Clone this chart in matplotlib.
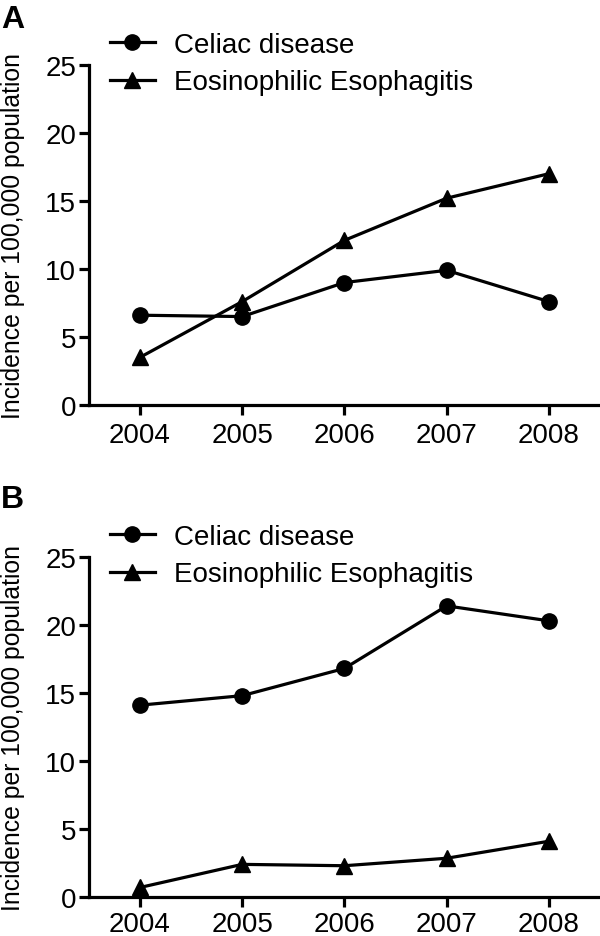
import matplotlib
matplotlib.use("Agg")
import matplotlib.pyplot as plt
from matplotlib.lines import Line2D

plt.rcParams['font.family'] = ['Liberation Sans', 'DejaVu Sans']

years = [2004, 2005, 2006, 2007, 2008]
series_names = ["Celiac disease", "Eosinophilic Esophagitis"]
a_celiac = [6.6, 6.5, 9.0, 9.9, 7.6]
a_eoe = [3.5, 7.6, 12.1, 15.2, 17.0]
b_celiac = [14.1, 14.8, 16.8, 21.4, 20.3]
b_eoe = [0.7, 2.4, 2.3, 2.85, 4.1]
yticks = [0, 5, 10, 15, 20, 25]
ylabel = "Incidence per 100,000 population"

fig = plt.figure(figsize=(6.0, 9.37), dpi=100)

panels = [
    ("A", a_celiac, a_eoe, [0.148, 0.5667, 0.852, 0.363], 0.9701, 5),
    ("B", b_celiac, b_eoe, [0.148, 0.0416, 0.852, 0.363], 0.4578, 3),
]

for label, cel, eoe, rect, label_y, xpad in panels:
    ax = fig.add_axes(rect)
    ax.plot(years, cel, color='black', lw=2.3, marker='o', ms=11, clip_on=False, zorder=3)
    ax.plot(years, eoe, color='black', lw=2.3, marker='^', ms=11, clip_on=False, zorder=3)
    ax.set_xlim(2003.5, 2008.5)
    ax.set_ylim(0, 25)
    ax.set_xticks(years)
    ax.set_xticklabels([str(y) for y in years])
    ax.set_yticks(yticks)
    for s in ['top', 'right']:
        ax.spines[s].set_visible(False)
    for s in ['left', 'bottom']:
        ax.spines[s].set_linewidth(2.3)
    ax.tick_params(axis='both', direction='out', length=7, width=2.3, labelsize=20)
    ax.tick_params(axis='x', pad=xpad)
    ax.tick_params(axis='y', pad=2)
    ax.set_ylabel(ylabel, fontsize=17.8)
    ax.yaxis.set_label_coords(-0.125, 0.5)
    handles = [
        Line2D([], [], color='black', lw=2.3, marker='o', ms=11),
        Line2D([], [], color='black', lw=2.3, marker='^', ms=11),
    ]
    ax.legend(handles, series_names, loc='upper left', bbox_to_anchor=(0.02, 1.13),
              frameon=False, fontsize=20, handlelength=1.6, handletextpad=0.7,
              labelspacing=0.42, borderaxespad=0)
    fig.text(0.002, label_y, label, fontsize=23, fontweight='bold',
             va='baseline', ha='left')

fig.savefig("out.png", dpi=100)
